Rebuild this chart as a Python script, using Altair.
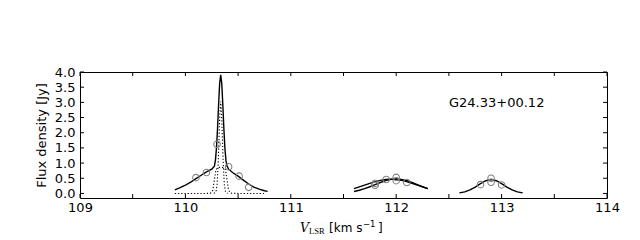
import altair as alt
import pandas as pd

# ---- data ----
# peak 1: total fit (solid)
p1_v = [109.90, 109.95, 110.00, 110.05, 110.10, 110.15, 110.20, 110.25, 110.275, 110.285,
        110.295, 110.305, 110.315, 110.325, 110.335, 110.345, 110.355, 110.365, 110.375,
        110.385, 110.395, 110.41, 110.45, 110.50, 110.55, 110.60, 110.65, 110.70, 110.75, 110.78]
p1_f = [0.12, 0.19, 0.27, 0.37, 0.49, 0.60, 0.71, 0.80, 0.90, 1.10,
        1.50, 2.14, 2.93, 3.62, 3.91, 3.62, 2.92, 2.13, 1.48,
        1.08, 0.90, 0.80, 0.68, 0.57, 0.44, 0.31, 0.21, 0.14, 0.09, 0.07]
# peak 1: components (dotted)
c1a_v = [109.90, 110.00, 110.10, 110.20, 110.24, 110.26, 110.275, 110.29, 110.31, 110.335,
         110.36, 110.38, 110.395, 110.41, 110.43, 110.50, 110.60, 110.70, 110.75]
c1a_f = [0.0, 0.0, 0.0, 0.0, 0.01, 0.10, 0.45, 0.78, 0.85, 0.86,
         0.85, 0.78, 0.45, 0.10, 0.01, 0.0, 0.0, 0.0, 0.0]
c1b_v = [110.27, 110.29, 110.30, 110.31, 110.32, 110.325, 110.335, 110.345, 110.35, 110.36,
         110.37, 110.38, 110.40]
c1b_f = [0.0, 0.06, 0.27, 0.89, 1.93, 2.47, 3.03, 2.47, 1.93, 0.89, 0.27, 0.06, 0.0]
# peak 2: two fits (solid)
p2_v = [111.60, 111.65, 111.70, 111.75, 111.80, 111.85, 111.90, 111.95, 112.00, 112.05,
        112.10, 112.15, 112.20, 112.25, 112.30]
p2a_f = [0.16, 0.215, 0.273, 0.332, 0.387, 0.431, 0.46, 0.47, 0.46, 0.431,
         0.387, 0.332, 0.273, 0.215, 0.16]
p2b_f = [0.065, 0.104, 0.156, 0.22, 0.29, 0.36, 0.42, 0.465, 0.48, 0.465,
         0.42, 0.36, 0.29, 0.22, 0.156]
# peak 3 (solid)
p3_v = [112.60, 112.65, 112.70, 112.75, 112.80, 112.85, 112.90, 112.95, 113.00, 113.05,
        113.10, 113.15, 113.20]
p3_f = [0.02, 0.052, 0.115, 0.21, 0.325, 0.42, 0.46, 0.42, 0.325, 0.21, 0.115, 0.052, 0.02]
# observed points (circles)
obs_v = [110.10, 110.20, 110.30, 110.41, 110.51, 110.60,
         111.80, 111.80, 111.905, 112.00, 112.00, 112.10,
         112.80, 112.90, 112.90, 113.00]
obs_f = [0.52, 0.69, 1.62, 0.88, 0.57, 0.20,
         0.33, 0.27, 0.46, 0.53, 0.42, 0.36,
         0.29, 0.50, 0.37, 0.28]

x_labels = [109, 110, 111, 112, 113, 114]
x_ticks = [109, 109.5, 110, 110.5, 111, 111.5, 112, 112.5, 113, 113.5, 114]
y_ticks = [0.0, 0.5, 1.0, 1.5, 2.0, 2.5, 3.0, 3.5, 4.0]
source_label = "G24.33+00.12"
y_title = "Flux density [Jy]"

W, H = 527, 126


def series(name, v, f):
    return pd.DataFrame({"v": v, "f": f, "s": name})


solid = pd.concat([series("p1", p1_v, p1_f), series("p2a", p2_v, p2a_f),
                   series("p2b", p2_v, p2b_f), series("p3", p3_v, p3_f)])
dotted = pd.concat([series("c1a", c1a_v, c1a_f), series("c1b", c1b_v, c1b_f)])
obs = pd.DataFrame({"v": obs_v, "f": obs_f})
xt = pd.DataFrame({"v": x_ticks})
yt = pd.DataFrame({"f": y_ticks})

xsc = alt.Scale(domain=[109, 114], nice=False, zero=False)
ysc = alt.Scale(domain=[-0.15, 4.0], nice=False, zero=False)

FONT = "DejaVu Sans"

x_axis = alt.Axis(
    values=x_labels, format="d", title=None, ticks=False, tickSize=0, domain=False,
    grid=False, labelFontSize=13, labelPadding=3, labelFlush=False, labelOverlap=False,
    labelColor="black", labelFont=FONT)
y_axis = alt.Axis(
    values=y_ticks, format=".1f", title=y_title, ticks=False, tickSize=0, domain=False,
    grid=False, labelFontSize=13, labelPadding=5, labelOverlap=False, labelColor="black",
    labelFont=FONT, titleFont=FONT, titleFontSize=13, titleFontWeight="normal",
    titleColor="black", titlePadding=6)

X = alt.X("v:Q", scale=xsc, axis=x_axis)
Y = alt.Y("f:Q", scale=ysc, axis=y_axis)

solid_layer = alt.Chart(solid).mark_line(color="black", strokeWidth=1.4).encode(
    x=X, y=Y, detail="s:N")

dotted_layer = alt.Chart(dotted).mark_line(
    color="black", strokeWidth=1.1, strokeDash=[1.2, 2]).encode(x=X, y=Y, detail="s:N")

obs_layer = alt.Chart(obs).mark_point(shape="circle", filled=False, color="#808080",
                                      size=42, strokeWidth=1.1, opacity=1).encode(x=X, y=Y)

tick_kw = dict(color="black", strokeWidth=1)
ytick_l = alt.Chart(yt).mark_rule(**tick_kw).encode(y=Y, x=alt.value(0), x2=alt.value(4))
ytick_r = alt.Chart(yt).mark_rule(**tick_kw).encode(y=Y, x=alt.value(W - 4), x2=alt.value(W))
xtick_b = alt.Chart(xt).mark_rule(**tick_kw).encode(x=X, y=alt.value(H - 4), y2=alt.value(H))
xtick_t = alt.Chart(xt).mark_rule(**tick_kw).encode(x=X, y=alt.value(0), y2=alt.value(4))


def text_piece(txt, px, py, size, font=FONT, style="normal"):
    return alt.Chart(pd.DataFrame({"t": [txt]})).mark_text(
        align="left", baseline="alphabetic", font=font, fontSize=size, fontStyle=style,
        color="black").encode(x=alt.value(px), y=alt.value(py), text="t:N")


labels = [
    text_piece(source_label, 369, 34.7, 13),
    text_piece("V", 220, 160, 12.5, font="DejaVu Serif", style="italic"),
    text_piece("LSR", 229, 161.7, 8.5, font="Liberation Serif"),
    text_piece("[km s", 249, 160, 12),
    text_piece("\u22121", 283, 154.7, 8.5),
    text_piece("]", 298, 160, 12),
]

chart = alt.layer(
    solid_layer, dotted_layer, obs_layer, ytick_l, ytick_r, xtick_b, xtick_t, *labels
).properties(
    width=W, height=H,
    autosize=alt.AutoSizeParams(type="none"),
    padding={"left": 72, "top": 64, "right": 25, "bottom": 40},
).configure_view(stroke="black", strokeWidth=1)

chart.save("out.html", embed_options={"renderer": "svg", "actions": False})
